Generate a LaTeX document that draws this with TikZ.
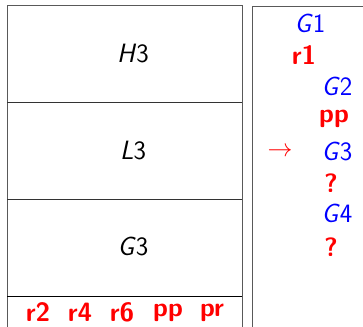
\documentclass[tikz,border=0pt]{standalone}
\usepackage{fontspec}
\begin{document}
\begin{tikzpicture}[x=1pt,y=1pt,
  frame/.style={draw=black!65,line width=1pt},
  sep/.style={draw=black!80,line width=1pt},
  lbl/.style={font=\fontsize{26.5}{30}\selectfont\sffamily,inner sep=0pt},
  blu/.style={lbl,text=blue},
  rd/.style={lbl,text=red,font=\fontsize{26.5}{30}\selectfont\sffamily\bfseries}]
\useasboundingbox (0,0) rectangle (363,326);
\begin{scope}
\clip (0,0) rectangle (363,326);
\draw[frame] (7,-5) -- (7,320) -- (242,320) -- (242,-5);
\draw[frame] (252,-5) -- (252,319) -- (370,319);
\draw[sep] (7,223) -- (242,223);
\draw[sep] (7,126) -- (242,126);
\draw[sep,draw=black] (7,30) -- (242,30);
\end{scope}
\node[lbl] (h3) at (133,272) {\textit{H}3};
\node[lbl] (l3) at (133,175) {\textit{L}3};
\node[lbl] (g3) at (133,79) {\textit{G}3};
\node[rd] (r2) at (38,14) {r2};
\node[rd] (r4) at (80,14) {r4};
\node[rd] (r6) at (122,14) {r6};
\node[rd] (pp) at (168,13) {pp};
\node[rd] (pr) at (212,13) {pr};
\node[blu] (G1) at (310,303) {\textit{G}1};
\node[rd] (R1) at (304,271) {r1};
\node[blu] (G2) at (337,240) {\textit{G}2};
\node[rd] (PP) at (334,207) {pp};
\node[lbl,text=red,font=\fontsize{26.5}{30}\selectfont] (arr) at (280,174) {$\rightarrow$};
\node[blu] (G3) at (337,174) {\textit{G}3};
\node[rd] (q1) at (331,143) {?};
\node[blu] (G4) at (337,113) {\textit{G}4};
\node[rd] (q2) at (331,79) {?};
\end{tikzpicture}
\end{document}
